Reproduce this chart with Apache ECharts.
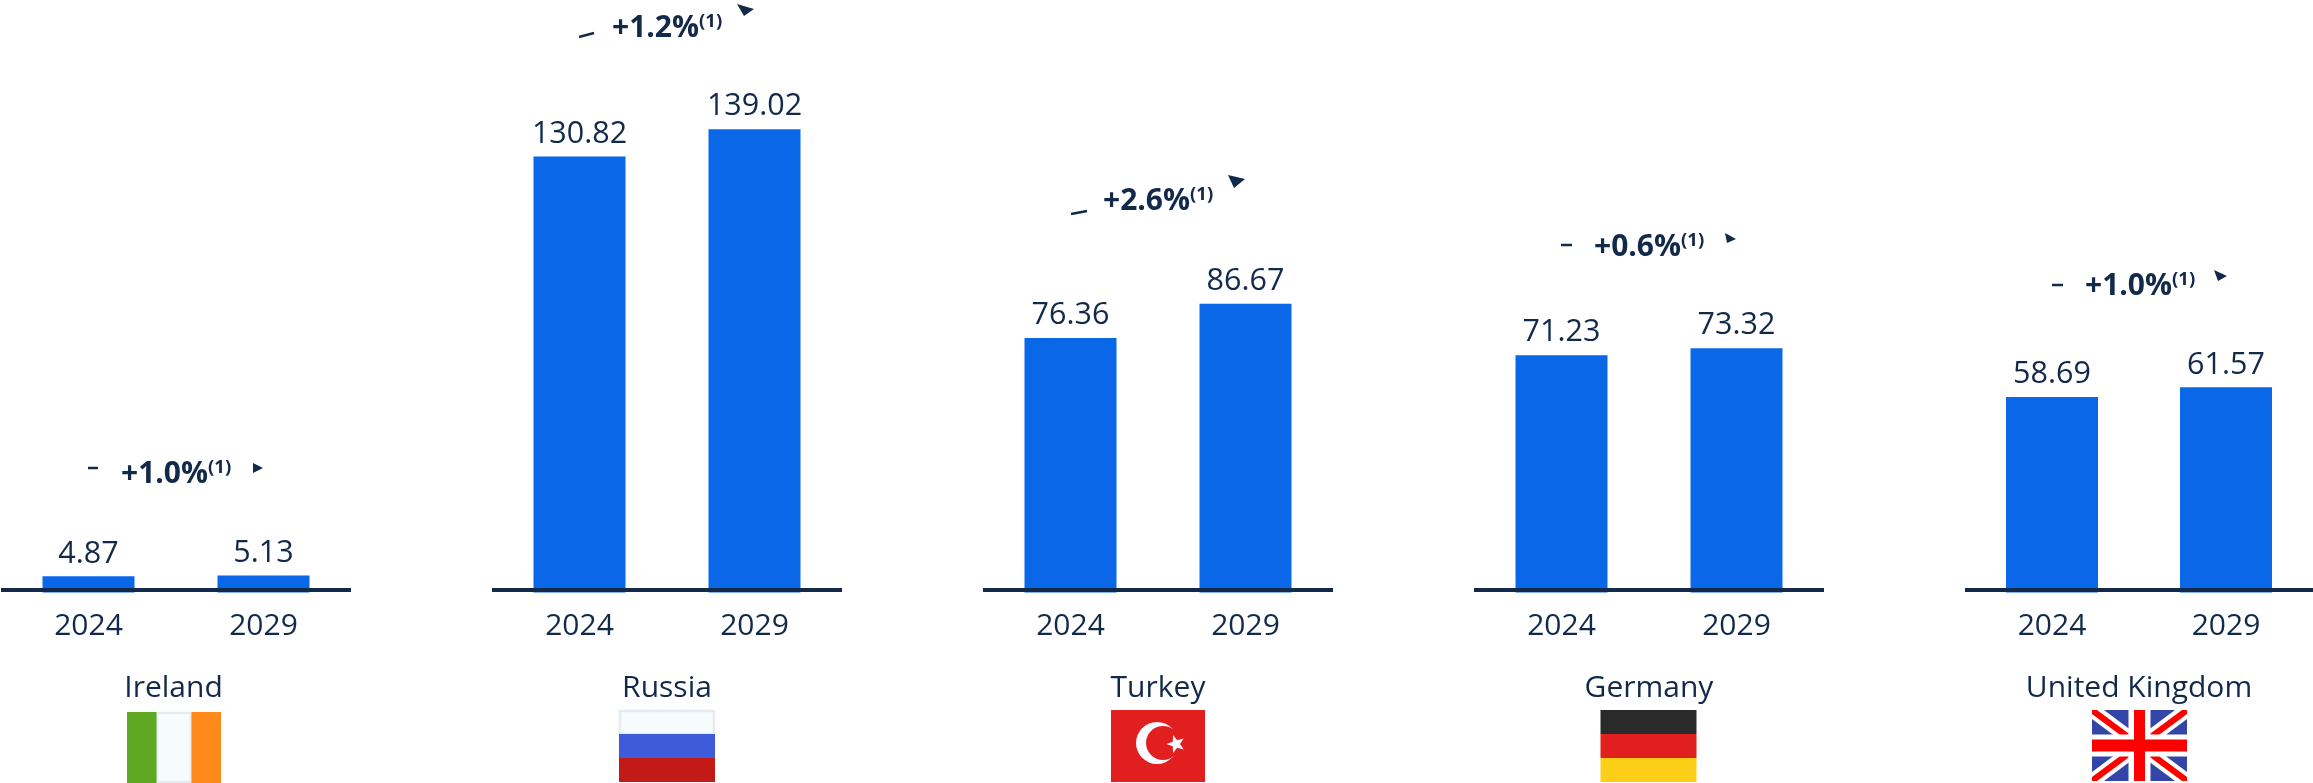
<!DOCTYPE html>
<html><head><meta charset="utf-8">
<style>html,body{margin:0;padding:0;background:#fff}#c{width:2313px;height:783px}</style>
<script src="https://cdn.jsdelivr.net/npm/echarts@6/dist/echarts.min.js"></script>
</head><body><div id="c"></div>
<script>
var countries = ['Ireland','Russia','Turkey','Germany','United Kingdom'];
var years = ['2024','2029'];
var values2024 = [4.87,130.82,76.36,71.23,58.69];
var values2029 = [5.13,139.02,86.67,73.32,61.57];
var growth = ['+1.0%','+1.2%','+2.6%','+0.6%','+1.0%'];
var note = '(1)';

var INK = '#12294a', BLUE = '#0a68e8';
var panelLeft = [1,492,983,1474,1965];
var nameShift = [5,0,0,0,0];
var panelW = 350, baseY = 592.6, yMax = 150, pxPerUnit = 10/3;
var gridH = yMax * pxPerUnit;

var anno = [
 {dash:[88,468,98,468], tx:121, ty:474, head:[[253,463],[263,468],[253,473]]},
 {dash:[579,37,594,33], tx:612, ty:28, head:[[737,4],[754,9],[744,16]]},
 {dash:[1071,214,1087,211], tx:1103, ty:201, head:[[1228,175],[1245,179],[1234,188]]},
 {dash:[1561,245,1572,245], tx:1594, ty:247, head:[[1725,233],[1736,239],[1727,243]]},
 {dash:[2052,285,2063,285], tx:2085, ty:286, head:[[2214,270],[2227,276],[2218,281]]}
];

var grids=[],xA=[],yA=[],series=[],graphic=[];
countries.forEach(function(name,i){
  grids.push({left:panelLeft[i],width:panelW,top:baseY-gridH,height:gridH,containLabel:false});
  xA.push({type:'category',gridIndex:i,data:years,z:5,offset:-2.6,
    name:name,nameLocation:'middle',nameGap:83,
    nameTextStyle:{fontFamily:'Open Sans',fontSize:30,color:INK,padding:[0,nameShift[i],0,0]},
    axisTick:{show:false},
    axisLine:{lineStyle:{color:INK,width:4,cap:'butt'}},
    axisLabel:{fontFamily:'Open Sans',fontSize:30,color:INK,margin:21}});
  yA.push({type:'value',gridIndex:i,min:0,max:yMax,show:false,splitLine:{show:false}});
  series.push({type:'bar',xAxisIndex:i,yAxisIndex:i,barWidth:92,
    data:[values2024[i],values2029[i]],
    itemStyle:{color:BLUE},
    label:{show:true,position:'top',distance:7,fontFamily:'Open Sans',fontSize:30.5,color:INK,
      formatter:function(p){return p.value.toFixed(2);}}});
  var a=anno[i];
  graphic.push({type:'line',shape:{x1:a.dash[0],y1:a.dash[1],x2:a.dash[2],y2:a.dash[3]},style:{stroke:INK,lineWidth:2.5}});
  graphic.push({type:'polygon',shape:{points:a.head},style:{fill:INK}});
  graphic.push({type:'text',x:a.tx,y:a.ty,style:{
    text:'{b|'+growth[i]+'}{s|'+note+'}',verticalAlign:'middle',
    rich:{b:{fontFamily:'Open Sans',fontWeight:700,fontSize:30,fill:INK,verticalAlign:'middle'},
          s:{fontFamily:'Open Sans',fontWeight:700,fontSize:18.5,fill:INK,padding:[0,0,13,0],verticalAlign:'middle'}}}});
});

function rect(x,y,w,h,fill,stroke){graphic.push({type:'rect',shape:{x:x,y:y,width:w,height:h},style:stroke?{fill:fill,stroke:stroke,lineWidth:2.5}:{fill:fill}});}
var fy=710;
// Ireland
rect(157,713,34,69,'#f6fbfe','#e6ebf1');rect(127,712,29.5,71,'#5fa822');rect(191.5,712,29.5,71,'#fe8a1c');
// Russia
rect(620,711,94,23,'#f6fbfe','#e6ebf1');rect(619,734,96,24,'#3e5bdc');rect(619,758,96,24,'#c41a17');
// Turkey
rect(1111,fy,94,72,'#e21f1f');
graphic.push({type:'circle',shape:{cx:1157,cy:743,r:21},style:{fill:'#f8fbff'}});
graphic.push({type:'circle',shape:{cx:1163,cy:743,r:17},style:{fill:'#e21f1f'}});
var star=[];for(var k=0;k<10;k++){var r=k%2?4:9.5,t=Math.PI+k*Math.PI/5;star.push([1176+r*Math.cos(t),744+r*Math.sin(t)]);}
graphic.push({type:'polygon',shape:{points:star},style:{fill:'#f8fbff'}});
// Germany
rect(1600.5,fy,96,24,'#2a2a2a');rect(1600.5,fy+24,96,24,'#e21f1f');rect(1600.5,fy+48,96,24,'#fdce17');
// UK
var ux=2092,uw=95,uh=71,uy=fy;
rect(ux,uy,uw,uh,'#3345a8');
function diag(d,e,fill){
  graphic.push({type:'polygon',shape:{points:[[ux,uy],[ux+d,uy],[ux+uw,uy+uh-e],[ux+uw,uy+uh],[ux+uw-d,uy+uh],[ux,uy+e]]},style:{fill:fill}});
  graphic.push({type:'polygon',shape:{points:[[ux+uw,uy],[ux+uw,uy+e],[ux+d,uy+uh],[ux,uy+uh],[ux,uy+uh-e],[ux+uw-d,uy]]},style:{fill:fill}});
}
diag(12,9,'#fff');diag(5,4,'#f00');
rect(ux+uw/2-11,uy,22,uh,'#fff');rect(ux,uy+uh/2-11,uw,22,'#fff');
rect(ux+uw/2-5.5,uy,11,uh,'#f00');rect(ux,uy+uh/2-6,uw,12,'#f00');

var chart=echarts.init(document.getElementById('c'),null,{renderer:'canvas'});
chart.setOption({animation:false,backgroundColor:'#fff',grid:grids,xAxis:xA,yAxis:yA,series:series,
  graphic:{elements:graphic}});
</script></body></html>
